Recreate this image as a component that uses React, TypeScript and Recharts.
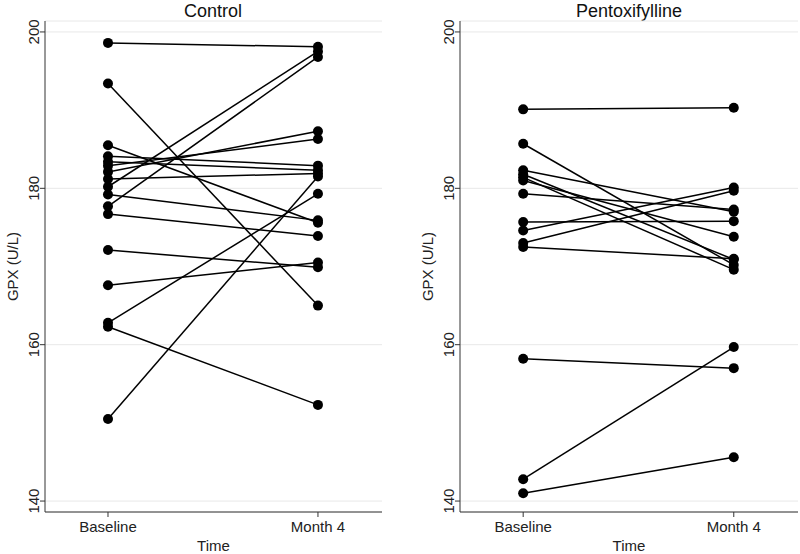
import React from 'react';
import { LineChart, Line, XAxis, YAxis, CartesianGrid } from 'recharts';

// Control group: baseline and month-4 GPX (U/L), paired by subject
const controlBaseline = [198.6, 193.4, 185.5, 184.1, 183.4, 182.9, 182.1, 181.2, 180.2, 179.2, 177.7, 176.7, 172.1, 167.6, 162.8, 162.3, 150.5];
const controlMonth4 = [198.1, 165.0, 175.6, 182.9, 182.3, 186.3, 187.3, 181.9, 197.5, 175.9, 196.8, 173.9, 169.9, 170.5, 179.3, 152.3, 181.5];

// Pentoxifylline group
const pentoxBaseline = [190.1, 185.7, 182.3, 181.8, 181.4, 181.0, 179.3, 175.7, 174.6, 173.0, 172.5, 158.2, 142.8, 141.0];
const pentoxMonth4 = [190.3, 170.2, 177.0, 170.9, 169.6, 173.8, 177.3, 175.8, 180.1, 179.7, 171.0, 157.0, 159.7, 145.6];

const timeLabels = ['Baseline', 'Month 4'];
const yTicks = [140, 160, 180, 200];
const panelTitles = ['Control', 'Pentoxifylline'];

const FONT = '"Liberation Sans", Arial, Helvetica, sans-serif';
const AXIS = '#333333';

const YTick = (props: any) => {
  const { x, y, payload } = props;
  const cx = x + 1.5;
  return (
    <text x={cx} y={y} transform={`rotate(-90 ${cx} ${y})`} textAnchor="middle" fill="#222" fontSize={15} fontFamily={FONT}>
      {payload.value}
    </text>
  );
};

const YLabel = (props: any) => {
  const vb = props.viewBox || { x: 0, y: 0, width: 45, height: 400 };
  const cx = vb.x + 17.5;
  const cy = vb.y + vb.height / 2;
  return (
    <text x={cx} y={cy} transform={`rotate(-90 ${cx} ${cy})`} textAnchor="middle" fill="#222" fontSize={15} fontFamily={FONT}>
      GPX (U/L)
    </text>
  );
};

type PanelProps = {
  title: string;
  base: number[];
  m4: number[];
  width: number;
  marginRight: number;
  titleCenter: number;
};

const Panel = ({ title, base, m4, width, marginRight, titleCenter }: PanelProps) => {
  return (
    <div style={{ position: 'relative', width, height: 554 }}>
      <div
        style={{
          position: 'absolute',
          left: titleCenter - 100,
          width: 200,
          top: 2,
          textAlign: 'center',
          fontFamily: FONT,
          fontSize: 18,
          lineHeight: '18px',
          color: '#111',
        }}
      >
        {title}
      </div>
      <LineChart width={width} height={554} margin={{ top: 21, right: marginRight, bottom: 0, left: 0 }}>
        <CartesianGrid horizontal vertical={false} stroke="#e8e8e8" strokeWidth={1} />
        <XAxis
          type="number"
          dataKey="x"
          domain={[-0.3, 1.305]}
          ticks={[0, 1]}
          tickFormatter={(v: number) => timeLabels[v]}
          allowDataOverflow
          height={42}
          tickSize={5}
          tickMargin={4}
          stroke={AXIS}
          tick={{ fill: '#222', fontSize: 15, fontFamily: FONT }}
          label={{ value: 'Time', position: 'insideBottom', offset: 3, fill: '#222', fontSize: 15, fontFamily: FONT }}
        />
        <YAxis
          type="number"
          domain={[138.6, 201.4]}
          ticks={yTicks}
          allowDataOverflow
          width={45}
          tickSize={5}
          tickMargin={2}
          stroke={AXIS}
          tick={<YTick />}
          label={{ content: <YLabel /> }}
        />
        {base.map((b, i) => (
          <Line
            key={i}
            data={[
              { x: 0, y: b },
              { x: 1, y: m4[i] },
            ]}
            dataKey="y"
            type="linear"
            stroke="#000"
            strokeWidth={1.5}
            dot={{ r: 5, fill: '#000', stroke: '#000', strokeWidth: 0 }}
            activeDot={false}
            isAnimationActive={false}
          />
        ))}
      </LineChart>
    </div>
  );
};

export default function App() {
  return (
    <div style={{ position: 'absolute', left: 0, top: 0, width: 800, height: 554, background: '#fff', display: 'flex' }}>
      <Panel title={panelTitles[0]} base={controlBaseline} m4={controlMonth4} width={415} marginRight={33} titleCenter={213} />
      <Panel title={panelTitles[1]} base={pentoxBaseline} m4={pentoxMonth4} width={385} marginRight={2} titleCenter={214} />
    </div>
  );
}
